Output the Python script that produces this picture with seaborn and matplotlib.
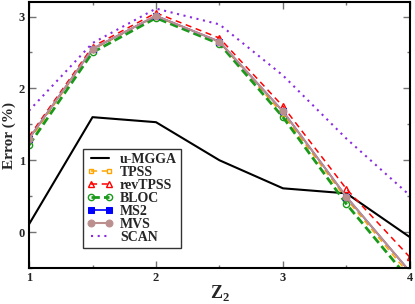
import seaborn as sns
import pandas as pd
import numpy as np
import matplotlib.pyplot as plt
from matplotlib.ticker import MultipleLocator

# data
z2 = [1.0, 1.5, 2.0, 2.5, 3.0, 3.5, 4.0]
umgga = [0.11, 1.60, 1.53, 1.00, 0.61, 0.54, -0.07]
tpss = [1.27, 2.54, 3.00, 2.64, 1.64, 0.46, -0.60]
revtpss = [1.33, 2.58, 3.05, 2.70, 1.75, 0.60, -0.35]
bloc = [1.21, 2.50, 2.98, 2.62, 1.60, 0.39, -0.67]
ms2 = [1.30, 2.55, 3.01, 2.65, 1.68, 0.49, -0.55]
mvs = [1.30, 2.55, 3.01, 2.65, 1.68, 0.49, -0.55]
scan = [1.69, 2.63, 3.11, 2.89, 2.18, 1.30, 0.51]

sns.set_style('ticks')
plt.rcParams['font.family'] = ['Liberation Serif', 'DejaVu Serif']
plt.rcParams['font.weight'] = 'bold'
plt.rcParams['mathtext.fontset'] = 'custom'
plt.rcParams['mathtext.rm'] = 'Liberation Serif:bold'
plt.rcParams['mathtext.bf'] = 'Liberation Serif:bold'

fig = plt.figure(figsize=(4.15, 3.04), dpi=100)
ax = fig.add_axes([0.0699, 0.118, 0.918, 0.875])

sns.lineplot(x=z2, y=umgga, color='black', lw=1.5, label='u-MGGA', ax=ax)
sns.lineplot(x=z2, y=tpss, color='orange', lw=1.1, dashes=(4, 3), marker='s',
             ms=3.5, mfc='none', mec='orange', mew=1, label='TPSS', ax=ax)
sns.lineplot(x=z2, y=revtpss, color='red', lw=1.1, dashes=(4, 3), marker='^',
             ms=5, mfc='none', mec='red', mew=1, label='revTPSS', ax=ax)
sns.lineplot(x=z2, y=bloc, color='#1a9a1a', lw=2, dashes=(3, 1.5), marker='o',
             ms=4.5, mfc='none', mec='#1a9a1a', mew=1, label='BLOC', ax=ax)
sns.lineplot(x=z2, y=ms2, color='blue', lw=1.2, marker='s', ms=4,
             mec='blue', label='MS2', ax=ax)
sns.lineplot(x=z2, y=mvs, color='#bc8f8f', lw=1.5, marker='o', ms=5,
             mec='#bc8f8f', label='MVS', ax=ax)
sns.lineplot(x=z2, y=scan, color='#8a2be2', lw=1.5, dashes=(1, 2.2),
             label='SCAN', ax=ax)

ax.set_xlim(1, 4)
ax.set_ylim(-0.5, 3.2)
ax.xaxis.set_major_locator(MultipleLocator(1))
ax.xaxis.set_minor_locator(MultipleLocator(0.5))
ax.yaxis.set_major_locator(MultipleLocator(1))
ax.yaxis.set_minor_locator(MultipleLocator(0.5))
ax.tick_params(which='both', direction='in', top=True, right=True,
               color='0.45', width=1, labelsize=9, pad=3)
ax.tick_params(which='major', length=5)
ax.tick_params(which='minor', length=2.5)
for lab in ax.get_xticklabels() + ax.get_yticklabels():
    lab.set_fontweight('bold')
for sp in ax.spines.values():
    sp.set_linewidth(1.5)
    sp.set_color('black')

ax.set_xlabel('Z$_\\mathbf{2}$', fontsize=13, fontweight='bold', labelpad=-1)
ax.set_ylabel('Error (%)', fontsize=11, fontweight='bold', labelpad=2)

leg = ax.legend(loc='lower left', bbox_to_anchor=(0.142, 0.075), borderaxespad=0,
                numpoints=2, handlelength=1.9, fontsize=10, labelspacing=0.0,
                fancybox=False, frameon=True, borderpad=0.3, handletextpad=0.45)
leg.get_frame().set_edgecolor('black')
leg.get_frame().set_linewidth(1)
for t in leg.get_texts():
    t.set_fontweight('bold')

fig.savefig('out.png', dpi=100)
